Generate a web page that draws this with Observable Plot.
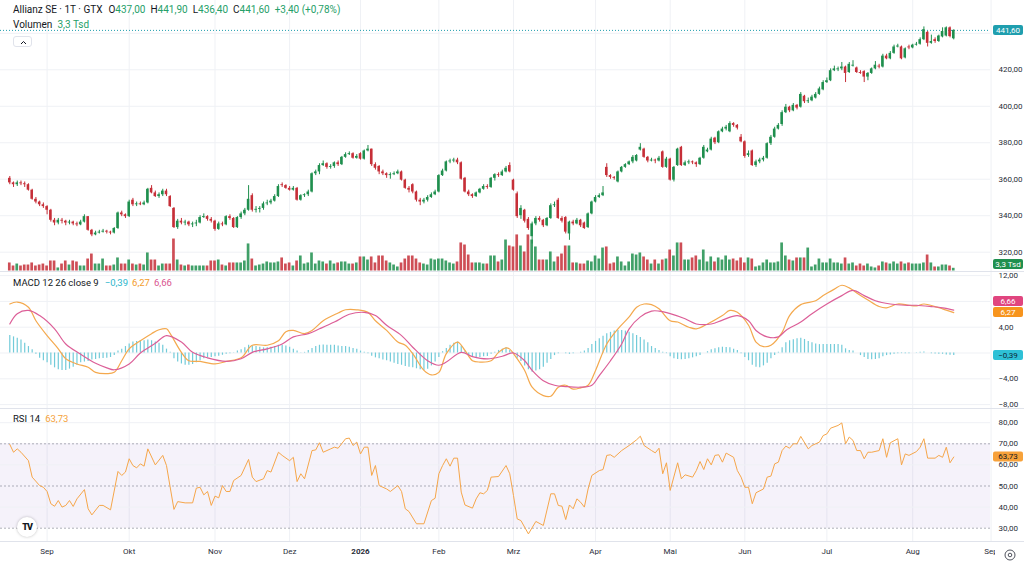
<!DOCTYPE html>
<html><head><meta charset="utf-8">
<script src="https://cdn.jsdelivr.net/npm/d3@7"></script>
<script src="https://cdn.jsdelivr.net/npm/@observablehq/plot@0.6"></script>
<style>
html,body{margin:0;padding:0;background:#fff;}
#wrap{position:relative;width:1024px;height:567px;overflow:hidden;font-family:Roboto,"Liberation Sans",sans-serif;color:#131722;background:#fff;}
#wrap svg{position:absolute;left:0;}
</style></head><body><div id="wrap"></div>
<script>
// ---------- data (daily, index 0 = 18.08.2025) ----------
const opens = [
360.5,358.0,357.0,358.0,357.5,357.0,354.0,349.0,347.5,346.0,
345.0,343.0,337.5,336.0,337.5,337.0,336.0,336.5,335.5,335.0,
336.5,339.5,332.0,329.5,330.5,331.0,331.5,331.0,330.5,333.0,
341.5,340.5,339.5,348.5,346.0,346.5,346.0,347.0,355.0,352.5,
350.5,351.5,353.5,350.5,344.0,333.5,337.0,336.0,336.5,335.0,
335.5,336.0,339.0,339.5,338.0,337.0,332.5,335.5,335.0,339.5,
338.5,333.5,339.0,341.0,343.0,351.0,343.0,343.5,344.0,346.5,
347.0,348.0,350.5,357.0,356.5,355.0,354.0,355.0,348.5,351.0,
351.5,353.0,363.0,364.0,367.5,368.5,366.5,367.0,369.0,368.0,
372.0,373.5,374.0,371.5,374.0,371.0,375.5,376.5,368.0,367.0,
364.0,363.0,362.0,362.5,363.0,364.0,359.5,355.0,357.0,353.0,
348.5,347.5,348.5,350.0,351.5,353.0,362.0,364.5,369.5,370.0,
370.5,369.0,360.5,353.0,351.5,350.5,352.5,354.5,356.0,355.5,
360.5,362.5,362.0,364.0,367.5,359.5,352.0,340.0,343.0,338.0,
328.5,335.5,338.5,337.5,334.5,338.5,345.5,348.5,338.5,339.0,
330.0,336.5,335.5,337.5,336.0,333.5,341.0,347.5,350.0,351.0,
366.5,362.0,361.0,358.5,364.0,366.5,368.0,369.5,370.0,376.0,
376.5,372.0,370.0,370.5,370.0,375.0,366.5,371.0,359.5,367.5,
377.5,367.5,369.0,369.5,369.0,368.0,371.5,375.0,376.0,382.5,
380.0,386.0,387.5,386.0,390.5,389.5,383.0,380.5,373.0,375.5,
367.5,369.5,370.5,371.5,379.5,383.0,387.5,390.0,396.5,399.5,
397.5,400.5,399.5,405.5,402.5,403.0,404.5,406.5,409.0,413.0,
414.0,419.5,420.0,420.5,421.5,418.5,422.0,421.0,418.5,419.0,
416.0,418.0,420.5,422.0,421.5,427.5,426.0,429.0,432.5,432.5,
426.5,432.5,432.0,433.5,434.0,436.5,440.5,434.5,436.5,435.5,
438.0,438.5,443.0,437.0];
const highs = [
361.5,358.5,359.0,359.0,358.5,357.5,354.5,350.0,348.0,347.0,
345.5,343.5,338.5,338.5,338.5,337.5,337.5,337.0,336.5,337.5,
340.5,339.5,332.5,331.5,332.0,332.5,332.0,331.5,333.5,342.0,
342.5,341.0,348.5,349.5,347.5,347.5,348.0,355.0,356.5,353.5,
352.5,354.5,354.5,351.0,344.5,338.0,338.5,337.5,337.0,336.5,
337.5,340.0,341.0,340.0,339.0,337.5,336.5,336.5,340.0,340.5,
339.0,339.5,342.0,344.0,356.5,352.0,345.0,345.0,347.5,348.5,
349.0,351.5,357.0,358.0,357.0,356.0,356.0,355.5,351.5,352.0,
354.0,363.5,365.0,368.5,370.0,369.0,368.0,369.5,370.0,372.5,
374.5,375.0,374.5,373.5,374.5,376.0,378.5,376.5,369.0,367.5,
365.0,363.5,363.5,364.0,365.0,364.5,360.0,356.0,357.5,353.5,
349.5,349.5,351.0,352.5,354.0,362.5,365.5,370.0,371.0,371.5,
371.5,369.5,361.0,354.0,352.0,353.0,355.0,357.0,357.0,361.0,
363.0,363.5,365.0,367.0,369.0,360.0,353.0,345.5,343.5,339.0,
336.5,339.5,339.5,338.0,339.0,346.5,347.5,349.5,339.5,339.5,
337.0,337.5,338.5,338.0,336.5,341.5,348.0,351.0,352.0,356.0,
368.5,362.5,361.5,364.5,367.0,368.5,370.0,373.0,373.5,379.5,
377.0,372.5,371.5,371.0,372.5,375.5,372.0,371.5,367.0,377.0,
378.0,370.0,370.5,370.0,369.5,372.0,378.5,377.0,383.0,383.0,
386.5,388.5,389.5,391.5,391.0,390.0,384.5,381.0,375.5,376.0,
370.5,371.5,372.5,380.0,384.0,388.5,390.5,397.5,401.0,400.0,
401.5,401.0,407.5,406.0,404.5,406.0,407.5,410.5,414.0,415.5,
420.5,422.0,421.5,424.0,422.0,424.0,425.0,421.5,419.5,419.5,
418.5,421.0,424.5,423.0,428.5,428.5,430.0,433.5,434.0,433.0,
432.0,433.5,434.0,435.0,437.5,443.5,441.0,439.0,437.5,439.0,
443.0,443.5,443.5,441.9];
const lows = [
357.0,355.5,356.0,356.5,355.5,353.5,348.5,346.5,345.0,344.0,
340.5,336.5,334.5,335.0,335.5,334.5,335.0,334.5,334.0,334.5,
336.0,331.5,328.5,329.0,330.0,330.5,330.0,329.5,330.0,332.5,
339.5,338.5,339.0,345.0,345.0,345.5,345.5,346.5,352.0,350.0,
349.5,350.5,350.5,344.5,333.0,332.5,335.0,334.5,334.0,333.5,
334.0,335.5,338.5,337.0,336.0,331.5,332.0,334.0,334.5,337.5,
333.0,333.0,338.0,340.0,342.5,342.0,341.5,341.5,343.0,345.5,
346.0,347.5,350.0,355.5,354.5,353.5,353.5,348.0,348.0,350.0,
350.5,352.5,362.0,362.5,367.0,365.5,365.5,366.0,367.0,367.5,
371.5,373.0,371.0,371.0,370.5,370.5,375.0,367.0,365.0,362.5,
362.0,360.5,360.0,362.0,362.5,359.0,354.5,352.5,352.0,347.5,
345.5,346.5,347.5,349.5,351.0,352.5,361.5,364.0,368.5,369.0,
368.0,359.5,352.5,350.5,349.5,350.0,352.0,354.0,354.5,355.0,
359.0,361.0,361.5,363.5,363.5,353.5,338.5,338.0,336.0,332.0,
324.5,334.5,336.5,333.5,334.0,338.0,344.5,338.0,336.0,330.0,
326.5,334.5,335.0,333.5,332.5,333.0,340.5,347.0,349.5,350.5,
361.0,360.0,359.5,358.0,363.5,366.0,367.5,368.5,369.5,375.5,
371.5,369.0,369.5,368.5,369.5,366.0,366.0,359.0,358.5,367.0,
367.0,367.0,368.0,368.0,366.5,367.5,371.0,374.5,375.5,379.0,
379.5,385.5,386.5,385.5,388.5,387.0,380.0,371.5,372.0,367.0,
366.5,368.5,369.5,371.0,378.5,382.5,387.0,389.0,396.0,396.5,
397.0,398.0,399.0,401.5,401.5,402.5,404.0,406.0,408.5,412.5,
413.5,419.0,419.0,419.5,413.0,418.0,421.5,418.0,417.5,413.0,
414.0,417.5,420.0,420.5,421.0,425.5,425.5,428.5,432.0,425.5,
426.0,431.0,431.5,433.0,433.5,436.0,432.5,434.0,434.5,435.0,
437.5,438.0,437.5,436.4];
const closes = [
358.0,357.0,358.0,357.5,357.0,354.0,349.0,347.5,346.0,345.0,
343.0,337.5,336.0,337.5,337.0,336.0,336.5,335.5,335.0,336.5,
339.5,332.0,329.5,330.5,331.0,331.5,331.0,330.5,333.0,341.5,
340.5,339.5,347.5,346.0,346.5,346.0,347.0,354.5,352.5,350.5,
351.5,353.5,351.5,345.0,333.5,337.0,336.0,336.5,335.0,335.5,
336.0,339.0,339.5,338.0,337.0,332.5,335.5,335.0,339.5,338.5,
333.5,339.0,341.0,343.0,349.0,343.0,343.5,344.0,346.5,347.0,
348.0,350.5,356.0,356.5,355.0,354.0,355.0,348.5,351.0,351.5,
353.0,363.0,364.0,367.5,368.5,366.5,367.0,369.0,368.0,372.0,
373.5,374.0,371.5,372.5,371.0,375.5,376.5,368.0,366.0,364.0,
363.0,362.0,362.5,363.0,364.0,359.5,355.0,354.0,353.0,348.5,
347.5,348.5,350.0,351.5,353.0,362.0,364.5,369.5,370.0,370.5,
369.0,360.0,353.0,351.5,350.5,352.5,354.5,356.0,355.5,360.5,
362.5,362.0,364.0,366.0,364.0,354.0,339.5,344.0,337.0,333.0,
335.5,338.5,337.5,334.5,338.5,345.5,346.0,338.5,337.0,331.0,
336.5,335.5,337.5,334.5,333.0,341.0,347.5,350.0,351.0,352.5,
362.0,361.0,360.5,364.0,366.5,368.0,369.5,372.0,373.0,377.5,
372.0,370.0,370.5,370.0,371.5,366.5,371.0,359.5,366.5,376.5,
367.5,369.0,369.5,369.0,368.0,371.5,377.5,376.0,382.0,380.0,
386.0,387.5,388.5,390.5,389.5,388.0,380.5,372.5,374.0,367.5,
369.5,370.5,371.5,379.5,383.0,387.5,389.5,396.5,399.5,397.5,
400.5,399.0,406.5,402.5,403.0,405.0,406.5,409.5,413.0,414.0,
419.5,420.5,420.5,421.5,418.0,423.0,422.5,418.5,418.0,416.0,
418.0,420.5,422.5,421.5,427.5,426.0,429.0,432.5,433.0,426.0,
431.5,432.0,433.5,434.0,436.5,442.0,434.5,435.5,435.5,438.5,
441.0,443.0,438.2,441.6];
const volumes = [ // Tsd
9.8,6.1,8.5,6.1,7.3,7.3,9.8,6.1,7.3,8.5,
6.1,12.2,12.2,3.7,8.5,12.2,7.3,12.2,11,6.1,
6.1,14.6,20.7,8.5,8.5,14.6,6.1,6.1,7.3,15.9,
8.5,8.5,13.4,8.5,7.3,8.5,7.3,22,13.4,13.4,
6.1,8.5,8.5,8.5,39,13.4,7.3,6.1,7.3,6.1,
6.1,6.1,6.1,6.1,12.2,12.2,13.4,7.3,6.1,9.8,
9.8,9.8,9.8,12.2,33,14.6,6.1,7.3,8.5,11,
9.8,9.8,11,15.9,8.5,9.8,6.1,12.2,18.3,8.5,
9.8,22,8.5,12.2,11,8.5,12.2,8.5,9.8,11,
11,8.5,8.5,9.8,17.1,17.1,13.4,17.1,9.8,18.3,
18.3,12.2,9.8,7.3,4.9,9.8,14.6,18.3,18.3,14.6,
9.8,8.5,7.3,14.6,13.4,14.6,14.6,12.2,9.8,8.5,
11,34.2,31.7,19.5,9.8,9.8,9.8,8.5,8.5,18.3,
18.3,11,13.4,37.8,30.5,29.3,44,30.5,23.2,44,
37.8,29.3,13.4,13.4,13.4,23.2,11,17.1,20.7,30.5,
30.5,9.8,9.8,8.5,8.5,12.2,11,18.3,14.6,28,
29.3,8.5,9.8,17.1,11,6.1,11,20.7,19.5,22,
17.1,13.4,8.5,13.4,8.5,13.4,14.6,25.6,18.3,34.2,
34.2,13.4,13.4,15.9,18.3,13.4,25.6,11,17.1,11,
15.9,13.4,18.3,13.4,14.6,12.2,15.9,9.8,15.9,14.6,
4.9,6.1,9.8,13.4,9.8,9.8,11,34.2,18.3,13.4,
12.2,15.9,15.9,15.9,28,4.9,7.3,14.6,9.8,9.8,
14.6,9.8,9.8,8.5,15.9,8.5,9.8,6.1,8.5,6.1,
8.5,4.9,3.7,6.1,11,9.8,8.5,11,8.5,11,
8.5,9.8,8.5,8.5,8.5,9.8,19.5,9.8,4.9,4.9,
7.3,7.3,6.1,3.3];
const histogram = [
2.7,2.5,2.3,2.0,1.5,1.0,0.5,-0.2,-0.8,-1.2,
-1.5,-1.9,-2.3,-2.6,-2.7,-2.7,-2.5,-2.2,-1.9,-1.5,
-1.4,-1.3,-1.1,-1.0,-0.9,-0.85,-0.8,-0.7,-0.4,0.3,
0.6,1.0,1.4,1.7,1.8,1.9,1.9,2.0,1.9,1.7,
1.5,1.2,0.6,0.1,-0.9,-1.4,-1.7,-1.9,-1.9,-1.8,
-1.5,-1.2,-0.9,-0.75,-0.7,-0.6,-0.5,-0.35,-0.2,-0.1,
0.05,0.3,0.5,0.8,1.2,1.1,1.0,0.9,0.8,0.8,
0.9,1.0,1.2,1.2,1.1,0.9,0.6,0.3,0.05,0.1,
0.4,0.7,1.0,1.2,1.25,1.2,1.2,1.2,1.1,1.0,
1.0,0.9,0.7,0.6,0.3,0.1,-0.1,-0.5,-0.75,-0.9,
-1.1,-1.2,-1.4,-1.6,-1.8,-1.9,-2.1,-2.2,-2.3,-2.45,
-2.6,-2.7,-2.5,-2.0,-1.4,-0.7,0.2,0.7,1.2,1.5,
1.7,1.1,0.3,-0.4,-0.6,-0.75,-0.7,-0.6,-0.55,-0.2,
0.1,0.4,0.6,0.8,0.4,-0.1,-0.8,-1.3,-2.0,-2.6,
-3.0,-2.8,-2.6,-2.2,-1.6,-1.0,-0.4,-0.1,0.0,-0.1,
-0.2,-0.1,0.0,0.1,0.3,0.7,1.3,1.8,2.2,2.6,
3.0,3.2,3.4,3.5,3.5,3.4,3.2,3.0,2.7,2.4,
2.0,1.6,1.0,0.7,0.4,0.1,-0.1,-0.6,-0.9,-1.0,
-1.05,-1.0,-0.9,-0.75,-0.6,-0.4,0.0,0.2,0.5,0.65,
0.8,0.9,0.85,0.8,0.6,0.4,-0.1,-0.7,-1.2,-1.9,
-2.2,-2.3,-2.0,-1.6,-0.9,-0.4,0.1,0.8,1.6,1.9,
2.05,2.2,2.3,2.1,1.8,1.6,1.4,1.3,1.3,1.3,
1.3,1.3,1.3,1.2,0.65,0.4,0.3,0.0,-0.4,-0.7,
-1.0,-1.05,-1.0,-0.9,-0.6,-0.4,-0.3,-0.2,-0.1,-0.1,
-0.1,-0.1,0.0,0.05,0.1,0.15,0.0,-0.1,-0.15,-0.2,
-0.2,-0.3,-0.35,-0.39];
const macdLine = [[0,7.6],[2,7.9],[5,7.1],[7,5.0],[10,2.7],[13,0.65],[15,-0.9],[18,-1.7],[21,-2.2],[23,-3.0],[26,-3.2],[28,-3.0],[30,-1.2],[32,0.65],[35,1.9],[38,3.0],[40,3.6],[42,3.75],[43,3.0],[46,0.1],[48,-1.2],[51,-1.3],[55,-1.7],[58,-1.3],[62,-0.75],[65,1.2],[69,1.2],[72,1.9],[74,3.3],[76,3.5],[79,3.0],[81,3.5],[84,5.0],[88,6.2],[90,6.7],[93,6.7],[96,6.3],[98,5.0],[101,3.5],[104,1.7],[106,1.2],[108,-0.1],[111,-2.7],[113,-3.4],[115,-3.0],[117,-0.1],[120,1.7],[122,0.4],[124,-1.2],[126,-1.4],[129,-1.2],[131,0.1],[133,0.8],[134,0.6],[135,-0.1],[138,-2.7],[140,-5.3],[143,-6.6],[145,-6.7],[147,-5.3],[149,-5.0],[151,-5.6],[153,-5.4],[155,-5.0],[157,-2.7],[160,1.4],[163,3.75],[166,5.6],[168,7.1],[170,7.6],[172,7.5],[174,6.85],[177,5.0],[179,4.8],[182,4.0],[184,3.75],[187,4.5],[191,5.8],[193,6.6],[195,6.3],[198,4.3],[200,1.7],[202,1.0],[204,1.2],[207,3.2],[209,5.8],[212,7.5],[216,8.1],[218,8.9],[221,9.9],[223,10.5],[225,10.1],[227,9.3],[230,8.2],[233,7.2],[235,7.0],[238,7.6],[241,7.4],[243,7.3],[245,7.6],[248,7.2],[250,6.85],[253,6.27]];
const signalLine = [[0,4.5],[2,6.1],[5,6.6],[8,5.8],[12,3.75],[15,1.4],[19,-0.2],[23,-1.6],[26,-2.3],[28,-2.6],[32,-1.7],[35,0],[39,1.5],[42,2.7],[46,1.7],[49,0.1],[53,-0.75],[58,-1.3],[62,-0.9],[65,0.1],[69,0.65],[73,1.4],[76,2.5],[80,3.0],[83,3.75],[87,4.8],[91,6.0],[95,6.3],[98,5.8],[101,4.3],[105,2.7],[108,0.9],[112,-1.2],[115,-1.9],[117,-1.4],[121,0.1],[124,-0.55],[128,-0.9],[132,-0.5],[135,0],[138,-1.2],[140,-2.7],[143,-4.3],[146,-5.0],[149,-5.2],[153,-5.3],[156,-5.0],[158,-3.5],[161,-1.2],[164,1.4],[166,3.75],[169,5.6],[172,6.5],[174,6.5],[177,6.1],[181,5.3],[184,4.5],[188,4.5],[191,5.1],[195,5.8],[198,5.0],[200,3.5],[203,2.5],[206,2.5],[208,3.5],[212,4.8],[215,6.1],[219,7.6],[223,8.9],[226,9.7],[229,8.9],[232,8.1],[236,7.6],[240,7.4],[243,7.4],[247,7.2],[250,7.0],[253,6.66]];
const rsiLine = [[0,69.7],[1,66],[2,67.6],[3,66],[5,62],[6,54.2],[8,50.2],[9,49.4],[10,47.4],[11,41.6],[12,40.4],[13,43.1],[14,40],[15,40.8],[16,43.1],[17,40.3],[18,43.9],[20,48.3],[21,39.2],[22,36.3],[24,40.8],[25,40.8],[27,38.7],[29,56.9],[30,55],[31,56.6],[32,62.9],[33,59.7],[34,58.6],[35,60.5],[36,59.4],[37,67.6],[39,60],[41,64.5],[42,59.7],[44,38.9],[45,42.6],[47,42],[49,42],[50,49],[51,49.4],[52,45.8],[53,47.4],[54,40.8],[55,45.2],[56,44.4],[57,50.2],[58,47.4],[59,47.4],[60,52.6],[62,55],[64,62.6],[65,54.2],[66,52.1],[68,53.4],[69,57.3],[70,56.6],[72,66],[73,64.5],[75,62],[76,63.6],[77,52.1],[78,55.8],[79,53.4],[81,66.8],[82,67.1],[83,70.5],[84,66],[86,67.6],[87,68.4],[88,67.9],[90,72.4],[91,72.7],[92,69.2],[93,70.8],[94,65.2],[95,68.4],[96,68.4],[97,55],[98,59.7],[99,50.2],[101,48.6],[102,47.4],[104,50.2],[105,47.4],[106,39.2],[107,37.9],[109,32.1],[111,32.1],[113,43.1],[114,44.2],[115,55.8],[116,59.7],[117,62.9],[118,59.4],[119,63.2],[120,63.2],[121,47.1],[122,41],[124,39.5],[125,43.9],[126,46.8],[127,46.3],[128,47.9],[129,54.2],[131,54.5],[133,59.7],[134,55.8],[135,45.5],[136,34.4],[137,33.6],[139,27.3],[141,33.2],[143,31.3],[145,46.3],[146,46.3],[147,40.8],[148,40.4],[149,34.1],[150,41],[151,39.2],[152,43.9],[153,42.3],[154,40],[155,48.6],[156,55],[158,57.3],[159,57.8],[160,64.5],[161,64.8],[162,63.6],[164,66.8],[166,69.2],[168,71.9],[169,73.6],[170,69.2],[172,66.8],[173,65.7],[174,67.9],[175,55.8],[176,61],[177,47.9],[179,61],[180,53.4],[181,55.3],[183,54.2],[184,57.3],[185,61.6],[186,57.8],[187,62.9],[188,60],[189,64.5],[190,64.8],[191,61.3],[192,65.6],[194,63.6],[195,57.3],[196,54.2],[197,49.4],[198,49.4],[199,41.6],[200,46.8],[202,48.6],[203,54.2],[204,54.7],[205,60.5],[206,61.3],[207,66.8],[208,68.9],[209,67.9],[210,70],[211,70],[212,73.5],[214,67.6],[215,69.2],[217,70.8],[218,73.9],[219,74.7],[220,77.4],[222,78.7],[223,79.9],[224,70],[225,73.2],[226,71.6],[227,66.8],[228,66.8],[229,62.9],[230,66],[231,66],[233,66.8],[234,72.4],[235,63.6],[236,70.5],[238,72.4],[239,60],[240,65.2],[241,64.5],[243,66.3],[244,68.4],[245,72.4],[246,63.2],[248,63.2],[249,64.5],[250,63.6],[251,68.4],[252,61],[253,63.73]];
const monthTicks = [10,32,55,75,94,115,135,157,177,197,219,242,263];
const monthLabels = ["Sep","Okt","Nov","Dez","2026","Feb","Mrz","Apr","Mai","Jun","Jul","Aug","Sep"];
const priceTicks = [320,340,360,380,400,420,440];
const priceLabelTicks = [320,340,360,380,400,420];
const macdTicks = [-8,-4,0,4,8,12];
const macdLabelTicks = [-8,-4,4,12];
const rsiTicks = [30,40,50,60,70,80];

// ---------- styling ----------
const W = 1024, MR = 34;
const UP = "#1f8f4e", DOWN = "#c62f38";
const GRID = "#eff1f5";
const TXT = "#2a2e39";
const FONT = "Roboto, 'Liberation Sans', sans-serif";
const fmt2 = v => (v < 0 ? "−" : "") + Math.abs(v).toFixed(2).replace(".", ",");
const X = () => ({domain: [-2.49, 262.85], range: [0, 990], axis: null});
const baseStyle = {background: "transparent", fontFamily: FONT, fontSize: "8px", overflow: "hidden"};
const candles = closes.map((c, i) => ({i, o: opens[i], h: highs[i], l: lows[i], c, v: volumes[i], up: c >= opens[i]}));
const n = closes.length - 1;
const wrap = document.getElementById("wrap");

function place(svg, top) { svg.style.top = top + "px"; wrap.appendChild(svg); return svg; }
function tag(svg, y, text, bg, fg) {
  const g = d3.select(svg).append("g");
  g.append("rect").attr("x", 993).attr("y", y - 5).attr("width", 30).attr("height", 10).attr("rx", 2).attr("fill", bg);
  g.append("text").attr("x", 1008).attr("y", y).attr("dy", "0.35em").attr("text-anchor", "middle")
    .attr("font-size", 8).attr("font-family", FONT).attr("fill", fg).text(text);
}
const yAxisRight = ticks => Plot.axisY({ticks, anchor: "right", tickSize: 0, tickPadding: 8, tickFormat: fmt2, fontSize: 8, fill: TXT, label: null});

// ---------- price panel: grid ----------
place(Plot.plot({
  width: W, height: 271, marginLeft: 0, marginRight: MR, marginTop: 0, marginBottom: 0, style: baseStyle,
  x: X(), y: {domain: [320, 440], range: [251.7, 32.8], axis: null},
  marks: [Plot.ruleX(monthTicks, {stroke: GRID}), Plot.ruleY(priceTicks, {stroke: GRID})]
}), 0);

// ---------- volume overlay ----------
const volPlot = place(Plot.plot({
  width: W, height: 271, marginLeft: 0, marginRight: MR, marginTop: 0, marginBottom: 0, style: baseStyle,
  x: X(), y: {domain: [0, 100], range: [270.5, 188.5], axis: null}, color: {type: "identity"},
  marks: [Plot.rect(candles, {x1: d => d.i - 0.36, x2: d => d.i + 0.36, y1: 0, y2: "v", fill: d => d.up ? UP : DOWN, fillOpacity: 0.85})]
}), 0);

// ---------- candles ----------
const pricePlot = place(Plot.plot({
  width: W, height: 271, marginLeft: 0, marginRight: MR, marginTop: 0, marginBottom: 0, style: baseStyle,
  x: X(), y: {domain: [320, 440], range: [251.7, 32.8]}, color: {type: "identity"},
  marks: [
    Plot.ruleY([closes[n]], {stroke: "#1f9eae", strokeDasharray: "1,2"}),
    Plot.ruleX(candles, {x: "i", y1: "l", y2: "h", stroke: d => d.up ? UP : DOWN, strokeWidth: 1}),
    Plot.rect(candles, {x1: d => d.i - 0.34, x2: d => d.i + 0.34, y1: "o", y2: "c", fill: d => d.up ? UP : DOWN}),
    yAxisRight(priceLabelTicks)
  ]
}), 0);
tag(pricePlot, pricePlot.scale("y").apply(closes[n]), fmt2(closes[n]), "#1f9eae", "#fff");
const vy = volPlot.scale("y").apply(volumes[n]);
tag(pricePlot, Math.min(vy, 264), volumes[n].toFixed(1).replace(".", ",") + " Tsd", "#1f8f4e", "#fff");

// ---------- MACD ----------
const histData = histogram.map((h, i) => ({i, h}));
const macdPlot = place(Plot.plot({
  width: W, height: 136, marginLeft: 0, marginRight: MR, marginTop: 0, marginBottom: 0, style: baseStyle,
  x: X(), y: {domain: [-8, 12], range: [132.1, 3.1]},
  marks: [
    Plot.ruleX(monthTicks, {stroke: GRID}),
    Plot.ruleY(macdTicks, {stroke: GRID}),
    Plot.ruleX(histData, {x: "i", y1: 0, y2: "h", stroke: "#72cbd9", strokeWidth: 1.2}),
    Plot.line(macdLine, {x: d => d[0], y: d => d[1], stroke: "#f4a94e", strokeWidth: 1.2, curve: "catmull-rom"}),
    Plot.line(signalLine, {x: d => d[0], y: d => d[1], stroke: "#dc5f98", strokeWidth: 1.2, curve: "catmull-rom"}),
    yAxisRight(macdLabelTicks)
  ]
}), 272);
{
  const ys = macdPlot.scale("y");
  const mv = macdLine[macdLine.length - 1][1], sv = signalLine[signalLine.length - 1][1], hv = histogram[n];
  let my = ys.apply(mv), sy = ys.apply(sv);
  if (Math.abs(my - sy) < 11) { if (sv > mv) sy = my - 11; else my = sy - 11; }
  tag(macdPlot, sy, fmt2(sv), "#e0457f", "#fff");
  tag(macdPlot, my, fmt2(mv), "#f7941d", "#fff");
  tag(macdPlot, ys.apply(hv), fmt2(hv), "#2ec0d6", "#0d2a3a");
}

// ---------- RSI + time axis ----------
const months = monthTicks.map((t, k) => ({t, label: monthLabels[k]}));
const rsiPlot = place(Plot.plot({
  width: W, height: 158, marginLeft: 0, marginRight: MR, marginTop: 0, marginBottom: 26, style: baseStyle,
  x: X(), y: {domain: [30, 80], range: [118.7, 13.2]},
  marks: [
    Plot.ruleX(monthTicks, {stroke: GRID}),
    Plot.rectY([0], {y1: 30, y2: 70, fill: "#7e57c2", fillOpacity: 0.08}),
    Plot.ruleY([40, 60, 80], {stroke: GRID}),
    Plot.ruleY([30, 50, 70], {stroke: "#9a9ca8", strokeDasharray: "2,2", strokeOpacity: 0.8}),
    Plot.line(rsiLine, {x: d => d[0], y: d => d[1], stroke: "#f5a64a", strokeWidth: 1}),
    yAxisRight(rsiTicks),
    Plot.text(months.filter(d => d.label !== "2026"), {x: "t", text: "label", frameAnchor: "bottom", dy: 12.5, fontSize: 8, fill: TXT}),
    Plot.text(months.filter(d => d.label === "2026"), {x: "t", text: "label", frameAnchor: "bottom", dy: 12.5, fontSize: 8, fontWeight: "bold", fill: TXT})
  ]
}), 409);
tag(rsiPlot, rsiPlot.scale("y").apply(rsiLine[rsiLine.length - 1][1]), fmt2(rsiLine[rsiLine.length - 1][1]), "#f7a23a", "#131722");

// ---------- separators, legends, decorations ----------
function div(html, css) { const d = document.createElement("div"); d.innerHTML = html; d.style.cssText = css; wrap.appendChild(d); return d; }
div("", "position:absolute;left:0;top:271px;width:1024px;height:1px;background:#e0e3eb;");
div("", "position:absolute;left:0;top:408px;width:1024px;height:1px;background:#e0e3eb;");
div("", "position:absolute;left:0;top:541px;width:1024px;height:1px;background:#e0e3eb;");

const G = "#26a069";
const chg = closes[n] - closes[n - 1], pct = chg / closes[n - 1] * 100;
const sgn = v => (v >= 0 ? "+" : "−") + Math.abs(v).toFixed(2).replace(".", ",");
const grp = "margin-left:5px";
div(`<span>Allianz SE · 1T · GTX</span>` +
    `<span style="margin-left:6px">O<span style="color:${G}">${fmt2(opens[n])}</span></span>` +
    `<span style="${grp}">H<span style="color:${G}">${fmt2(highs[n])}</span></span>` +
    `<span style="${grp}">L<span style="color:${G}">${fmt2(lows[n])}</span></span>` +
    `<span style="${grp}">C<span style="color:${G}">${fmt2(closes[n])}</span></span>` +
    `<span style="${grp};color:${G}">${sgn(chg)} (${sgn(pct)}%)</span>`,
    "position:absolute;left:13px;top:4px;font-size:10px;line-height:11px;white-space:nowrap;");
div(`Volumen<span style="color:${G};margin-left:5px">${volumes[n].toFixed(1).replace(".", ",")} Tsd</span>`,
    "position:absolute;left:13px;top:19px;font-size:10px;line-height:11px;white-space:nowrap;");
div(`<svg width="19" height="11" style="position:static"><polyline points="7,7 9.5,4.5 12,7" fill="none" stroke="#131722" stroke-width="1"/></svg>`,
    "position:absolute;left:13px;top:36px;width:19px;height:11px;border:1px solid #e0e3eb;border-radius:3px;box-sizing:border-box;line-height:0;");
div(`MACD 12 26 close 9<span style="color:#2bb6cc;margin-left:6px">${fmt2(histogram[n])}</span><span style="color:#f39c2b;margin-left:4px">${fmt2(macdLine[macdLine.length-1][1])}</span><span style="color:#d9558f;margin-left:4px">${fmt2(signalLine[signalLine.length-1][1])}</span>`,
    "position:absolute;left:13px;top:278px;font-size:9.5px;line-height:10px;white-space:nowrap;");
div(`RSI 14<span style="color:#f5a23a;margin-left:5px">${fmt2(rsiLine[rsiLine.length-1][1])}</span>`,
    "position:absolute;left:13px;top:414px;font-size:9.5px;line-height:10px;white-space:nowrap;");
// TradingView badge
div(`<span style="font-weight:900;font-size:9px;letter-spacing:-1px;color:#131722">TV</span>`,
    "position:absolute;left:17px;top:517px;width:20px;height:20px;border-radius:50%;background:#fff;box-shadow:0 0 3px rgba(0,0,0,0.25);display:flex;align-items:center;justify-content:center;");
// right corner of time axis
div(`<svg width="14" height="14" style="position:static"><circle cx="7" cy="7" r="5" fill="none" stroke="#50535e" stroke-width="1"/><circle cx="7" cy="7" r="1.8" fill="none" stroke="#50535e" stroke-width="1"/></svg>`,
    "position:absolute;left:995px;top:542px;width:29px;height:25px;background:#fff;display:flex;align-items:center;justify-content:center;");
</script></body></html>
